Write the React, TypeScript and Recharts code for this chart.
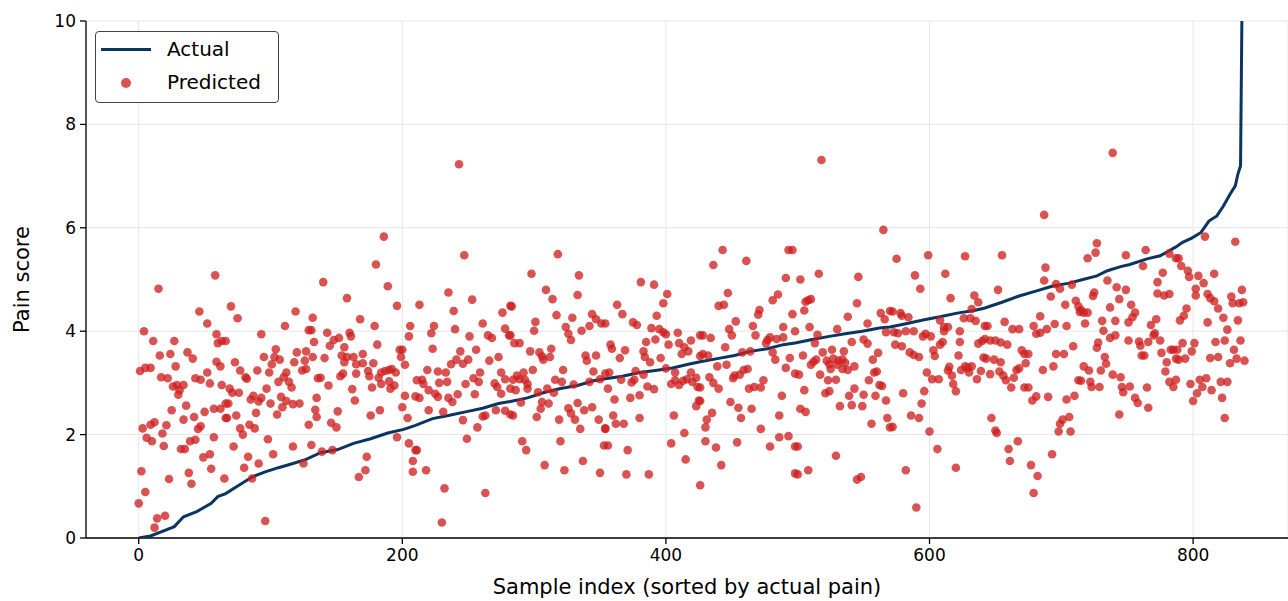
import { ScatterChart, Scatter, XAxis, YAxis, CartesianGrid } from "recharts"

// actual pain, sorted (index, score)
const actual: number[][] = [
  [0, 0.0], [9, 0.04], [17, 0.12], [27, 0.22], [34, 0.41], [44, 0.51], [55, 0.67], [60, 0.8], [66, 0.86],
  [76, 1.02], [86, 1.18], [96, 1.28], [106, 1.36], [117, 1.44], [127, 1.52], [138, 1.65], [151, 1.71],
  [163, 1.83], [176, 1.92], [189, 2.03], [201, 2.1], [210, 2.18], [223, 2.31], [235, 2.37], [248, 2.44],
  [261, 2.51], [273, 2.6], [282, 2.64], [295, 2.71], [307, 2.81], [320, 2.89], [333, 2.95], [345, 3.04],
  [354, 3.08], [367, 3.13], [380, 3.2], [392, 3.24], [405, 3.29], [417, 3.36], [426, 3.41], [439, 3.47],
  [452, 3.53], [464, 3.61], [477, 3.66], [489, 3.74], [498, 3.77], [511, 3.84], [524, 3.9], [536, 3.95],
  [549, 4.0], [562, 4.06], [570, 4.08], [583, 4.15], [596, 4.22], [608, 4.28], [621, 4.35], [634, 4.4],
  [642, 4.45], [655, 4.56], [668, 4.68], [680, 4.77], [693, 4.87], [706, 4.93], [715, 4.99], [727, 5.07],
  [735, 5.17], [745, 5.25], [752, 5.29], [765, 5.4], [775, 5.46], [787, 5.63], [792, 5.72], [799, 5.8],
  [806, 5.91], [812, 6.13], [818, 6.23], [823, 6.42], [828, 6.65], [832, 6.81], [834, 7.04], [836, 7.2],
  [837, 10],
]

// model predictions (index, score)
const predicted: number[][] = [
  [58,5.08],[15,4.82],[46,4.38],[52,4.15],[4,4.0],[11,3.81],[27,3.81],[59,3.94],[60,3.77],[63,3.81],[16,3.53],[24,3.56],[37,3.59],[41,3.47],[59,3.41],[62,3.32],[1,3.23],[5,3.29],[9,3.29],[28,3.32],[17,3.11],[22,3.09],[43,3.09],[47,3.06],[52,3.2],[54,2.99],[63,2.96],[26,2.93],[29,2.96],[34,2.96],[31,2.86],[30,2.77],[25,2.47],[36,2.56],[50,2.44],[57,2.5],[62,2.5],[66,2.6],[34,2.29],[42,2.34],[12,2.24],[9,2.19],[3,2.12],[21,2.18],[18,2.02],[47,2.16],[45,2.11],[6,1.94],[10,1.87],[19,1.78],[39,1.87],[43,1.9],[32,1.72],[35,1.72],[57,1.95],[49,1.56],[54,1.62],[66,2.32],[55,1.34],[2,1.29],[38,1.26],[40,1.05],[23,1.14],[5,0.89],[0,0.67],[14,0.38],[20,0.43],[12,0.2],[65,1.15],
  [70,4.48],[75,4.25],[119,4.38],[132,4.26],[111,4.1],[93,3.94],[129,4.02],[131,4.02],[133,3.79],[66,3.81],[104,3.65],[95,3.5],[103,3.5],[107,3.45],[120,3.59],[127,3.61],[118,3.4],[126,3.43],[132,3.5],[73,3.4],[77,3.24],[101,3.36],[99,3.2],[90,3.24],[81,3.11],[82,3.08],[112,3.2],[110,3.11],[106,3.02],[114,3.02],[116,2.91],[124,3.24],[127,3.27],[136,3.09],[69,2.89],[71,2.81],[76,2.81],[97,2.89],[87,2.75],[93,2.71],[85,2.68],[91,2.64],[108,2.73],[112,2.65],[100,2.6],[109,2.53],[117,2.59],[122,2.6],[135,2.71],[68,2.6],[134,2.48],[135,2.34],[89,2.42],[105,2.39],[74,2.37],[67,2.32],[129,2.19],[84,2.19],[77,2.12],[88,2.12],[79,2.0],[98,1.91],[72,1.77],[117,1.77],[131,1.8],[102,1.62],[83,1.57],[125,1.44],[91,1.44],[80,1.36],[86,1.15],[96,0.33],
  [186,5.83],[180,5.29],[189,4.87],[140,4.95],[158,4.64],[196,4.49],[168,4.23],[179,4.1],[206,4.1],[205,3.9],[143,3.97],[160,3.97],[161,3.9],[148,3.83],[152,3.87],[145,3.72],[156,3.69],[181,3.74],[198,3.64],[200,3.64],[199,3.5],[202,3.35],[141,3.48],[154,3.53],[158,3.5],[163,3.5],[170,3.56],[156,3.4],[165,3.36],[170,3.38],[178,3.38],[165,3.18],[153,3.13],[155,3.18],[174,3.23],[175,3.13],[184,3.2],[187,3.23],[190,3.25],[192,3.27],[195,3.2],[182,3.1],[184,2.98],[190,3.03],[191,2.89],[194,2.95],[138,3.1],[144,2.95],[177,2.91],[162,2.88],[164,2.66],[202,2.75],[151,2.45],[200,2.53],[204,2.32],[176,2.37],[183,2.47],[146,2.23],[150,2.14],[196,1.95],[205,1.83],[210,1.7],[208,1.49],[208,1.28],[173,1.57],[172,1.31],[167,1.18],[147,1.7],[139,1.67],
  [243,7.23],[247,5.47],[235,4.75],[213,4.51],[253,4.61],[239,4.39],[276,4.36],[282,4.49],[261,4.15],[224,4.1],[222,3.96],[240,4.04],[251,3.9],[265,3.92],[268,3.87],[278,4.05],[281,3.92],[223,3.66],[244,3.61],[256,3.64],[241,3.45],[250,3.45],[246,3.37],[237,3.36],[266,3.43],[273,3.5],[219,3.25],[227,3.22],[233,3.2],[211,3.05],[215,3.06],[216,2.98],[228,3.0],[234,3.02],[248,2.98],[254,3.09],[259,3.2],[258,3.02],[255,2.78],[270,2.99],[272,2.92],[275,3.2],[278,3.07],[275,2.79],[210,2.74],[213,2.71],[220,2.86],[225,2.79],[227,2.73],[235,2.71],[238,2.63],[242,2.78],[220,2.47],[231,2.44],[271,2.47],[278,2.46],[282,2.39],[246,2.28],[261,2.35],[263,2.37],[257,2.14],[249,1.92],[211,1.7],[218,1.31],[232,0.96],[263,0.87],[230,0.3],
  [318,5.49],[298,5.11],[334,5.08],[309,4.8],[314,4.62],[333,4.7],[283,4.48],[317,4.31],[329,4.26],[344,4.33],[347,4.23],[351,4.15],[342,4.1],[301,4.18],[300,4.01],[324,4.08],[326,3.95],[328,3.83],[336,4.01],[282,3.92],[285,3.77],[289,3.77],[313,3.66],[297,3.61],[304,3.59],[306,3.51],[307,3.45],[312,3.5],[339,3.53],[340,3.43],[347,3.53],[299,3.25],[292,3.2],[287,3.14],[289,3.07],[293,3.06],[295,2.98],[322,3.25],[345,3.22],[316,3.06],[321,3.02],[330,2.97],[342,3.02],[350,3.07],[354,3.18],[284,3.06],[282,2.89],[286,2.86],[295,2.89],[303,2.82],[310,2.89],[315,2.81],[290,2.62],[306,2.63],[311,2.6],[333,2.61],[305,2.5],[326,2.51],[328,2.41],[338,2.47],[344,2.53],[284,2.37],[302,2.34],[319,2.29],[331,2.29],[349,2.29],[335,2.11],[354,2.11],[291,1.87],[320,1.87],[294,1.7],[353,1.79],[308,1.41],[323,1.31],[337,1.49],[350,1.26],
  [381,4.95],[391,4.9],[401,4.72],[398,4.54],[363,4.51],[367,4.33],[393,4.3],[354,4.15],[375,4.17],[378,4.12],[389,4.06],[395,4.04],[398,3.98],[400,3.94],[409,3.97],[426,3.92],[392,3.84],[385,3.79],[402,3.74],[410,3.77],[414,3.69],[419,3.82],[417,3.61],[412,3.56],[358,3.74],[359,3.66],[369,3.63],[383,3.61],[384,3.5],[388,3.4],[396,3.48],[365,3.48],[426,3.52],[357,3.2],[377,3.23],[383,3.16],[400,3.28],[407,3.2],[419,3.2],[366,3.06],[374,3.01],[376,3.06],[404,2.98],[407,3.05],[410,2.96],[413,3.04],[416,3.07],[420,3.02],[423,3.1],[424,2.92],[356,2.89],[386,2.93],[391,2.88],[380,2.76],[373,2.71],[361,2.68],[425,2.66],[423,2.55],[360,2.37],[362,2.21],[368,2.21],[380,2.32],[406,2.37],[354,2.12],[414,2.03],[356,1.79],[371,1.7],[404,1.83],[415,1.52],[370,1.23],[387,1.23],[426,1.02],
  [443,5.57],[493,5.57],[496,5.57],[436,5.28],[461,5.36],[491,5.03],[447,4.74],[481,4.6],[485,4.71],[440,4.49],[444,4.51],[471,4.41],[470,4.32],[496,4.33],[453,4.19],[466,4.1],[489,4.08],[448,4.04],[450,3.92],[468,3.92],[477,3.83],[479,3.88],[484,3.85],[489,3.88],[498,4.0],[428,3.92],[434,3.87],[445,3.69],[476,3.77],[481,3.59],[483,3.45],[428,3.56],[432,3.53],[458,3.59],[464,3.61],[494,3.48],[491,3.29],[439,3.32],[446,3.35],[452,3.14],[451,3.09],[456,3.16],[459,3.25],[462,3.27],[433,3.11],[436,3.0],[440,2.89],[426,2.91],[463,2.89],[467,2.92],[472,2.91],[474,3.05],[498,3.18],[426,2.65],[449,2.63],[455,2.52],[488,2.75],[465,2.5],[457,2.32],[435,2.42],[431,2.29],[430,2.14],[486,2.37],[472,2.11],[430,1.87],[438,1.75],[454,1.85],[479,1.77],[486,1.95],[493,1.97],[498,1.77],[442,1.41],[498,1.25],
  [518,7.31],[565,5.96],[502,5.0],[516,5.11],[546,5.05],[508,4.6],[510,4.62],[506,4.57],[505,4.4],[545,4.54],[538,4.28],[563,4.35],[566,4.23],[570,4.39],[553,4.15],[509,4.08],[530,4.04],[567,3.98],[515,3.93],[513,3.77],[541,3.79],[550,3.84],[553,3.76],[561,3.58],[504,3.53],[519,3.59],[526,3.64],[535,3.61],[522,3.43],[527,3.47],[514,3.45],[512,3.41],[510,3.35],[531,3.43],[534,3.45],[536,3.39],[557,3.45],[524,3.36],[530,3.35],[525,3.27],[534,3.27],[538,3.25],[543,3.32],[501,3.16],[517,3.16],[523,3.05],[529,3.06],[554,3.05],[558,3.2],[560,3.22],[562,2.96],[564,2.94],[505,2.86],[521,2.8],[524,2.84],[543,2.89],[539,2.75],[550,2.77],[559,2.75],[567,2.66],[532,2.55],[541,2.57],[549,2.55],[502,2.5],[506,2.44],[568,2.32],[556,2.21],[570,2.14],[500,1.77],[529,1.59],[500,1.23],[508,1.31],[545,1.13],[548,1.18],
  [575,5.4],[599,5.47],[627,5.45],[589,5.08],[612,5.11],[593,4.82],[616,4.64],[634,4.69],[637,4.56],[572,4.38],[578,4.35],[579,4.3],[584,4.27],[632,4.43],[626,4.25],[631,4.25],[635,4.2],[608,4.21],[611,4.08],[614,4.08],[642,4.1],[573,3.98],[576,3.96],[582,4.0],[588,4.0],[597,3.95],[595,3.9],[601,3.9],[611,4.0],[623,4.0],[623,3.79],[574,3.74],[579,3.71],[610,3.79],[608,3.74],[637,3.76],[640,3.81],[585,3.59],[588,3.54],[592,3.5],[603,3.63],[604,3.52],[622,3.53],[641,3.49],[598,3.2],[615,3.31],[614,3.24],[624,3.25],[627,3.32],[629,3.29],[632,3.32],[630,3.2],[639,3.23],[617,3.14],[602,3.07],[607,3.07],[636,3.07],[618,2.98],[620,2.84],[580,2.8],[596,2.84],[594,2.6],[586,2.37],[592,2.32],[572,2.15],[600,2.06],[606,1.72],[620,1.36],[582,1.31],[590,0.59],
  [687,6.25],[655,5.47],[688,5.23],[652,4.8],[687,4.98],[696,4.91],[699,4.82],[708,4.9],[692,4.67],[703,4.51],[711,4.59],[713,4.48],[714,4.37],[684,4.29],[657,4.18],[644,4.1],[663,4.04],[668,4.04],[679,4.1],[681,3.95],[684,3.97],[689,4.04],[695,4.14],[704,4.1],[642,3.85],[646,3.82],[650,3.82],[654,3.78],[659,3.74],[670,3.63],[672,3.56],[675,3.56],[696,3.56],[702,3.56],[709,3.71],[643,3.47],[649,3.45],[654,3.4],[673,3.38],[668,3.28],[666,3.25],[646,3.17],[653,3.22],[656,3.14],[664,3.1],[658,3.05],[662,2.91],[686,3.25],[694,3.32],[672,2.91],[675,2.91],[713,3.05],[681,2.74],[678,2.66],[690,2.73],[704,2.68],[710,2.75],[647,2.32],[650,2.08],[651,2.03],[706,2.34],[701,2.29],[699,2.21],[698,2.06],[707,2.06],[667,1.87],[660,1.72],[661,1.49],[693,1.62],[677,1.41],[682,1.2],[679,0.87],
  [739,7.45],[727,5.7],[726,5.52],[720,5.41],[749,5.47],[764,5.57],[782,5.5],[787,5.41],[762,5.26],[777,5.13],[773,4.95],[735,4.98],[742,4.85],[749,4.8],[725,4.75],[724,4.68],[773,4.73],[778,4.69],[782,4.72],[744,4.62],[753,4.51],[737,4.46],[715,4.41],[717,4.36],[720,4.36],[756,4.36],[754,4.27],[718,4.15],[731,4.2],[741,4.2],[751,4.17],[772,4.23],[768,4.12],[732,4.01],[771,3.96],[770,3.92],[737,3.87],[741,3.92],[751,3.82],[759,3.8],[766,3.79],[775,3.82],[728,3.78],[727,3.68],[760,3.72],[761,3.53],[763,3.53],[776,3.58],[783,3.64],[785,3.64],[733,3.5],[734,3.37],[780,3.4],[787,3.47],[717,3.32],[721,3.24],[730,3.24],[779,3.22],[739,3.16],[745,3.11],[715,3.04],[722,3.02],[723,2.92],[729,2.92],[746,2.92],[747,2.82],[752,2.93],[765,2.91],[782,3.02],[785,2.92],[756,2.71],[758,2.61],[766,2.52],[744,2.39],
  [809,5.83],[832,5.73],[789,5.41],[791,5.26],[796,5.17],[797,5.05],[804,5.07],[816,5.11],[808,4.93],[802,4.82],[802,4.69],[811,4.72],[813,4.64],[816,4.58],[837,4.8],[829,4.67],[830,4.54],[835,4.54],[838,4.56],[819,4.44],[795,4.44],[793,4.3],[790,4.21],[823,4.26],[811,4.17],[834,4.21],[826,4.03],[792,3.77],[801,3.77],[817,3.79],[824,3.82],[836,3.82],[788,3.64],[799,3.61],[831,3.64],[789,3.45],[794,3.47],[813,3.48],[819,3.5],[828,3.38],[833,3.47],[839,3.43],[787,3.06],[798,2.98],[805,3.06],[810,3.09],[807,2.92],[821,3.02],[826,3.02],[814,2.86],[803,2.8],[800,2.65],[822,2.71],[824,2.32],
]

const xTicks = [0, 200, 400, 600, 800]
const yTicks = [0, 2, 4, 6, 8, 10]

const FONT = "DejaVu Sans, sans-serif"
const NAVY = "#0b3561"
const RED = "#cf1d1d"

const actualData = actual.map(([x, y]) => ({ x, y }))
const predictedData = predicted.map(([x, y]) => ({ x, y }))

const Dot = (props: any) => (
  <circle cx={props.cx} cy={props.cy} r={4.3} fill={RED} fillOpacity={0.76} />
)

export default function App() {
  return (
    <div style={{ position: "absolute", left: 0, top: 0, width: 1288, height: 601, overflow: "hidden", background: "#fff" }}>
      <ScatterChart width={1288} height={601} margin={{ top: 21, right: 0, bottom: 0, left: 0 }}>
        <CartesianGrid stroke="#e6e6e6" strokeWidth={1} />
        <XAxis
          type="number"
          dataKey="x"
          domain={[-40, 872]}
          ticks={xTicks}
          allowDataOverflow
          height={63}
          tickSize={6}
          tickMargin={5}
          axisLine={{ stroke: "#000", strokeWidth: 1.3 }}
          tickLine={{ stroke: "#000", strokeWidth: 1.3 }}
          tick={{ fontSize: 17, fill: "#000", fontFamily: FONT }}
          label={{ value: "Sample index (sorted by actual pain)", position: "insideBottom", offset: 7, style: { fontSize: 21, fill: "#000", fontFamily: FONT } }}
        />
        <YAxis
          type="number"
          dataKey="y"
          domain={[0, 10]}
          ticks={yTicks}
          allowDataOverflow
          width={86}
          tickSize={6}
          tickMargin={4}
          axisLine={{ stroke: "#000", strokeWidth: 1.3 }}
          tickLine={{ stroke: "#000", strokeWidth: 1.3 }}
          tick={{ fontSize: 17, fill: "#000", fontFamily: FONT }}
          label={{ value: "Pain score", angle: -90, position: "insideLeft", offset: 22, style: { fontSize: 21, fill: "#000", fontFamily: FONT, textAnchor: "middle" } }}
        />
        <Scatter
          name="Actual"
          data={actualData}
          line={{ stroke: NAVY, strokeWidth: 3 }}
          shape={() => <g />}
          isAnimationActive={false}
        />
        <Scatter name="Predicted" data={predictedData} shape={Dot} isAnimationActive={false} />
      </ScatterChart>
      <div
        style={{
          position: "absolute", left: 95, top: 31, width: 184, height: 72, boxSizing: "border-box",
          border: "1px solid #444", borderRadius: 4, background: "rgba(255,255,255,0.9)",
          fontFamily: FONT, fontSize: 20, color: "#000",
        }}
      >
        <div style={{ position: "absolute", left: 5, top: 16, width: 50, height: 3, background: NAVY }} />
        <div style={{ position: "absolute", left: 71, top: 5, lineHeight: "24px" }}>Actual</div>
        <div style={{ position: "absolute", left: 25, top: 46, width: 10, height: 10, borderRadius: 5, background: RED, opacity: 0.76 }} />
        <div style={{ position: "absolute", left: 71, top: 38, lineHeight: "24px" }}>Predicted</div>
      </div>
    </div>
  )
}
